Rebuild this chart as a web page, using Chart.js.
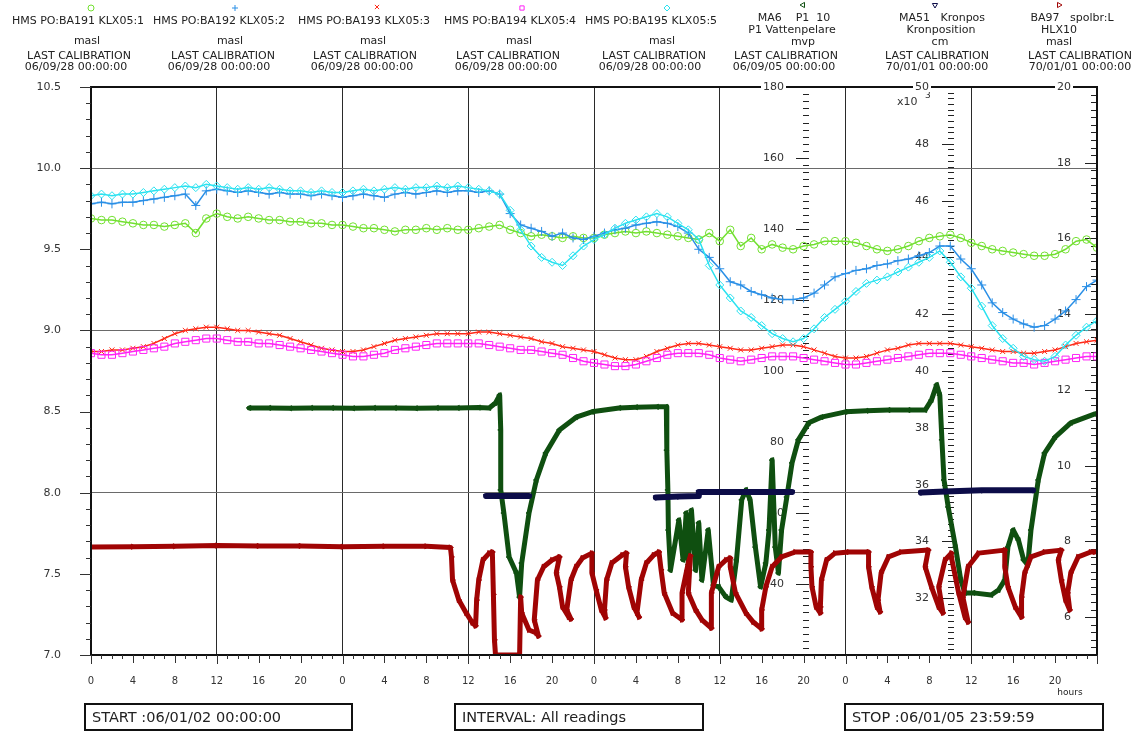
<!DOCTYPE html>
<html>
<head>
<meta charset="utf-8">
<script src="https://cdn.jsdelivr.net/npm/chart.js@4.4.1/dist/chart.umd.min.js"></script>
<style>
  html, body { margin: 0; padding: 0; background: #fff; }
  #wrap { width: 1141px; height: 731px; position: relative; }
</style>
</head>
<body>
<div id="wrap"><canvas id="chart"></canvas></div>
<script>
// ---- data: readings over 4 days (x = hours from START) ----
const hours = Array.from({length: 97}, (_, i) => i);

// HMS PO:BA191 KLX05:1 (masl)
const ba191 = [
  9.69, 9.68, 9.68, 9.67, 9.66, 9.65, 9.65, 9.64, 9.65, 9.66, 9.60, 9.69,
  9.72, 9.70, 9.69, 9.70, 9.69, 9.68, 9.68, 9.67, 9.67, 9.66, 9.66, 9.65,
  9.65, 9.64, 9.63, 9.63, 9.62, 9.61, 9.62, 9.62, 9.63, 9.62, 9.63, 9.62,
  9.62, 9.63, 9.64, 9.65, 9.62, 9.60, 9.58, 9.59, 9.58, 9.57, 9.58, 9.57,
  9.57, 9.59, 9.60, 9.61, 9.60, 9.61, 9.60, 9.59, 9.58, 9.57, 9.56, 9.60,
  9.55, 9.62, 9.52, 9.57, 9.50, 9.53, 9.51, 9.50, 9.52, 9.53, 9.55, 9.55,
  9.55, 9.54, 9.52, 9.50, 9.49, 9.50, 9.52, 9.55, 9.57, 9.58, 9.59, 9.57,
  9.54, 9.52, 9.50, 9.49, 9.48, 9.47, 9.46, 9.46, 9.47, 9.50, 9.55, 9.56, 9.51
];
// HMS PO:BA192 KLX05:2 (masl)
const ba192 = [
  9.78, 9.79, 9.78, 9.79, 9.79, 9.80, 9.81, 9.82, 9.83, 9.84, 9.77, 9.86,
  9.87, 9.86, 9.85, 9.86, 9.85, 9.84, 9.85, 9.84, 9.84, 9.83, 9.84, 9.83,
  9.82, 9.83, 9.84, 9.83, 9.82, 9.84, 9.85, 9.84, 9.85, 9.86, 9.85, 9.86,
  9.86, 9.85, 9.86, 9.84, 9.72, 9.65, 9.63, 9.61, 9.58, 9.60, 9.57, 9.56,
  9.58, 9.60, 9.62, 9.63, 9.65, 9.66, 9.67, 9.66, 9.64, 9.60, 9.50, 9.45,
  9.38, 9.30, 9.28, 9.24, 9.22, 9.20, 9.19, 9.19, 9.20, 9.23, 9.28, 9.33,
  9.35, 9.37, 9.38, 9.40, 9.41, 9.43, 9.44, 9.46, 9.48, 9.52, 9.52, 9.44,
  9.38, 9.28, 9.17, 9.11, 9.07, 9.04, 9.02, 9.03, 9.07, 9.12, 9.19, 9.27, 9.31
];
// HMS PO:BA193 KLX05:3 (masl)
const ba193 = [
  8.87, 8.87, 8.88, 8.88, 8.89, 8.90, 8.92, 8.95, 8.98, 9.00, 9.01, 9.02,
  9.02, 9.01, 9.00, 9.00, 8.99, 8.98, 8.97, 8.95, 8.93, 8.91, 8.89, 8.88,
  8.87, 8.87, 8.88, 8.90, 8.92, 8.94, 8.95, 8.96, 8.97, 8.98, 8.98, 8.98,
  8.98, 8.99, 8.99, 8.98, 8.97, 8.96, 8.95, 8.93, 8.92, 8.90, 8.89, 8.88,
  8.87, 8.85, 8.83, 8.82, 8.82, 8.84, 8.87, 8.89, 8.91, 8.92, 8.92, 8.91,
  8.90, 8.89, 8.88, 8.88, 8.89, 8.90, 8.91, 8.91, 8.90, 8.88, 8.86, 8.84,
  8.83, 8.83, 8.84, 8.86, 8.88, 8.89, 8.91, 8.92, 8.92, 8.92, 8.92, 8.91,
  8.90, 8.89, 8.88, 8.87, 8.87, 8.86, 8.86, 8.87, 8.88, 8.90, 8.92, 8.93, 8.94
];
// HMS PO:BA194 KLX05:4 (masl)
const ba194 = [
  8.86, 8.85, 8.85, 8.86, 8.87, 8.88, 8.89, 8.90, 8.92, 8.93, 8.94, 8.95,
  8.95, 8.94, 8.93, 8.93, 8.92, 8.92, 8.91, 8.90, 8.89, 8.88, 8.87, 8.86,
  8.85, 8.84, 8.84, 8.85, 8.86, 8.88, 8.89, 8.90, 8.91, 8.92, 8.92, 8.92,
  8.92, 8.92, 8.91, 8.90, 8.89, 8.88, 8.88, 8.87, 8.86, 8.85, 8.83, 8.81,
  8.80, 8.79, 8.78, 8.78, 8.79, 8.81, 8.83, 8.85, 8.86, 8.86, 8.86, 8.85,
  8.83, 8.82, 8.81, 8.82, 8.83, 8.84, 8.84, 8.84, 8.83, 8.82, 8.81, 8.80,
  8.79, 8.79, 8.80, 8.81, 8.82, 8.83, 8.84, 8.85, 8.86, 8.86, 8.86, 8.85,
  8.84, 8.83, 8.82, 8.81, 8.80, 8.80, 8.79, 8.80, 8.81, 8.82, 8.83, 8.84, 8.84
];
// HMS PO:BA195 KLX05:5 (masl)
const ba195 = [
  9.83, 9.84, 9.83, 9.84, 9.84, 9.85, 9.86, 9.87, 9.88, 9.89, 9.88, 9.90,
  9.89, 9.88, 9.87, 9.88, 9.87, 9.88, 9.87, 9.86, 9.86, 9.85, 9.86, 9.85,
  9.85, 9.86, 9.87, 9.86, 9.87, 9.88, 9.87, 9.88, 9.88, 9.89, 9.88, 9.89,
  9.88, 9.87, 9.86, 9.84, 9.74, 9.62, 9.52, 9.45, 9.42, 9.40, 9.46, 9.52,
  9.56, 9.59, 9.63, 9.66, 9.68, 9.70, 9.72, 9.70, 9.66, 9.62, 9.56, 9.40,
  9.28, 9.20, 9.12, 9.08, 9.03, 8.98, 8.95, 8.93, 8.95, 9.01, 9.08, 9.13,
  9.18, 9.24, 9.29, 9.31, 9.33, 9.36, 9.39, 9.42, 9.45, 9.49, 9.42, 9.33,
  9.26, 9.15, 9.03, 8.95, 8.89, 8.84, 8.82, 8.81, 8.84, 8.91, 8.97, 9.02, 9.06
];

// MA6 P1 10 - P1 Vattenpelare (mvp): [hour, value]
const ma6 = [
  [15.1, 89.6], [17, 89.6], [19, 89.5], [21, 89.6], [23, 89.6], [25, 89.5], [27, 89.6],
  [29, 89.6], [31, 89.5], [33, 89.6], [35, 89.6], [37, 89.7], [38.0, 89.6], [38.6, 91.0],
  [39.0, 93.2], [39.1, 83.4], [39.1, 66.5], [39.4, 60.0], [39.9, 47.6], [40.6, 43.1],
  [40.9, 36.3], [41.1, 45.9], [41.8, 60.0], [42.5, 69.3], [43.4, 76.9], [44.7, 83.4],
  [46.3, 87.0], [47.8, 88.5], [50.4, 89.6], [52, 89.8], [54, 89.9], [54.9, 89.9],
  [54.95, 77.7], [55.05, 66.5], [55.1, 55.2], [55.3, 43.9], [56.1, 58.0], [56.5, 46.8],
  [56.8, 60.0], [57.0, 45.4], [57.3, 60.8], [57.7, 43.9], [58.0, 57.2], [58.3, 41.1],
  [58.9, 55.2], [59.4, 39.7], [59.9, 39.2], [60.6, 36.3], [61.1, 35.5], [61.6, 46.8],
  [62.1, 63.7], [62.5, 66.5], [62.9, 63.7], [63.4, 50.4], [63.9, 39.2], [64.4, 45.9],
  [64.7, 55.2], [65.0, 74.9], [65.3, 50.4], [65.6, 43.1], [65.9, 55.2], [66.4, 64.5],
  [66.9, 74.1], [67.5, 80.6], [68.5, 85.4], [69.7, 87.0], [72.0, 88.5], [74, 88.8],
  [76.1, 89.0], [78, 89.0], [79.6, 89.0], [80.2, 91.8], [80.7, 96.1], [81.0, 93.2],
  [81.2, 80.6], [81.4, 69.3], [81.8, 61.7], [82.5, 50.4], [83.0, 41.1], [83.4, 37.5],
  [84.2, 37.5], [85.9, 36.9], [86.6, 38.3], [87.2, 41.1], [87.5, 50.4], [88.0, 55.2],
  [88.5, 52.4], [89.0, 46.8], [89.4, 45.4], [89.7, 55.2], [90.4, 69.3], [91.0, 76.9],
  [92.0, 81.4], [93.5, 85.4], [95.8, 87.9]
];

// MA51 Kronpos - Kronposition (cm), null splits the runs
const ma51 = [
  [37.7, 35600], [39.5, 35600], [41.8, 35600], [41.8, null],
  [53.9, 35550], [56, 35580], [58.0, 35600], [58.0, 35740], [62, 35740], [66.9, 35740], [66.9, null],
  [79.2, 35720], [81.5, 35760], [85, 35800], [89.9, 35800]
];

// BA97 spolbr:L - HLX10 (masl)
const ba97 = [
  [0, 7.85], [4, 7.86], [8, 7.87], [12, 7.89], [16, 7.88], [20, 7.88], [24, 7.86], [28, 7.87],
  [32, 7.87], [34.3, 7.84],
  [34.4, 7.59], [34.5, 6.98], [35.1, 6.45], [35.8, 6.11], [36.4, 5.85], [36.7, 5.77],
  [36.8, 6.45], [37.0, 6.98], [37.4, 7.51], [38.0, 7.69], [38.3, 7.72],
  [38.4, 6.6], [38.5, 5.40], [38.6, 5.0], [40.9, 5.0],
  [41.0, 6.53], [41.1, 6.11], [41.8, 5.66], [42.5, 5.58], [42.7, 5.50],
  [42.3, 5.93], [42.6, 6.98], [43.2, 7.33], [44.0, 7.51], [44.7, 7.59],
  [44.4, 7.17], [44.7, 6.80], [45.0, 6.27], [45.6, 6.00], [45.8, 5.95],
  [45.4, 6.19], [45.8, 6.98], [46.3, 7.33], [46.9, 7.56], [47.8, 7.69],
  [47.8, 7.17], [48.2, 6.72], [48.7, 6.19], [49.1, 5.98],
  [49.0, 6.19], [49.2, 6.98], [49.7, 7.43], [50.7, 7.64], [51.1, 7.69],
  [51.0, 7.33], [51.3, 6.80], [51.8, 6.27], [52.3, 6.00],
  [52.1, 6.11], [52.5, 6.98], [53.0, 7.43], [53.7, 7.64], [54.2, 7.72],
  [54.4, 7.25], [54.7, 6.64], [55.5, 6.11], [56.4, 5.93],
  [56.4, 6.64], [56.8, 7.17], [57.0, 7.43], [57.2, 7.62],
  [57.0, 6.64], [57.7, 6.19], [58.3, 5.93], [59.2, 5.71],
  [59.2, 6.64], [59.9, 7.33], [60.6, 7.51], [61.0, 7.56],
  [61.0, 7.33], [61.5, 6.64], [62.5, 6.11], [63.2, 5.87], [64.0, 5.69],
  [64.0, 6.19], [64.4, 6.80], [65.0, 7.33], [65.9, 7.59], [67.2, 7.72], [68.7, 7.72],
  [68.7, 7.33], [68.8, 6.80], [69.2, 6.27], [69.6, 6.11],
  [69.6, 6.27], [69.7, 6.98], [70.2, 7.51], [71.0, 7.69], [72.3, 7.72], [74.2, 7.72],
  [74.2, 7.33], [74.5, 6.80], [75.0, 6.27], [75.3, 6.14],
  [75.1, 6.45], [75.4, 7.17], [76.1, 7.59], [77.3, 7.72], [79.9, 7.77],
  [79.6, 7.33], [80.2, 6.80], [80.9, 6.27], [81.3, 6.11],
  [80.9, 6.80], [81.5, 7.51], [82.1, 7.69],
  [82.1, 7.59], [82.8, 6.64], [83.4, 6.00], [83.7, 5.87],
  [83.2, 6.53], [83.7, 7.33], [84.7, 7.69], [87.2, 7.77],
  [87.2, 7.33], [87.5, 6.80], [88.2, 6.27], [88.8, 6.00],
  [88.8, 6.53], [89.1, 7.17], [89.7, 7.59], [91.0, 7.72], [92.6, 7.77],
  [92.3, 7.51], [92.6, 6.98], [93.0, 6.45], [93.4, 6.19],
  [93.2, 6.64], [93.5, 7.17], [94.2, 7.59], [95.4, 7.72], [95.8, 7.72]
];

// header texts
const headers = [
  { sym: [91, 8],   l: [['HMS PO:BA191 KLX05:1', 78, 21], ['masl', 87, 41]],  lc: 79,  date: ['06/09/28 00:00:00', 76] },
  { sym: [235, 8],  l: [['HMS PO:BA192 KLX05:2', 219, 21], ['masl', 230, 41]], lc: 223, date: ['06/09/28 00:00:00', 219] },
  { sym: [377, 7],  l: [['HMS PO:BA193 KLX05:3', 364, 21], ['masl', 373, 41]], lc: 365, date: ['06/09/28 00:00:00', 362] },
  { sym: [522, 8],  l: [['HMS PO:BA194 KLX05:4', 510, 21], ['masl', 519, 41]], lc: 508, date: ['06/09/28 00:00:00', 506] },
  { sym: [667, 8],  l: [['HMS PO:BA195 KLX05:5', 651, 21], ['masl', 662, 41]], lc: 654, date: ['06/09/28 00:00:00', 650] },
  { sym: [803, 5],  l: [['MA6    P1  10', 794, 18], ['P1 Vattenpelare', 792, 30], ['mvp', 803, 42]], lc: 786, date: ['06/09/05 00:00:00', 784] },
  { sym: [935, 5],  l: [['MA51   Kronpos', 942, 18], ['Kronposition', 941, 30], ['cm', 940, 42]], lc: 937, date: ['70/01/01 00:00:00', 937] },
  { sym: [1059, 5], l: [['BA97   spolbr:L', 1072, 18], ['HLX10', 1059, 30], ['masl', 1059, 42]], lc: 1080, date: ['70/01/01 00:00:00', 1080] }
];

const COL = {
  g: '#72e030', b: '#2a8fe6', r: '#ff2a18', m: '#ff22f6', c: '#2ae2f0',
  dg: '#0f4f10', nv: '#0c0c48', dr: '#a00404'
};
const FONT = "'DejaVu Sans', Verdana, sans-serif";
Chart.defaults.font.family = FONT;
Chart.defaults.font.size = 11;
Chart.defaults.color = '#333';

const byHour = vals => vals.map((v, i) => ({x: hours[i], y: v}));
const byPair = pairs => pairs.map(p => ({x: p[0], y: p[1]}));
const isMult = (v, s) => Math.abs(v / s - Math.round(v / s)) < 1e-6;

const symOpts = [
  {style: 'circle', r: 3.8, rot: 0, color: COL.g},
  {style: 'cross', r: 4.5, rot: 0, color: COL.b},
  {style: 'crossRot', r: 3.5, rot: 0, color: COL.r},
  {style: 'rect', r: 5, rot: 0, color: COL.m},
  {style: 'rectRot', r: 4, rot: 0, color: COL.c},
  {style: 'triangle', r: 3, rot: -90, color: COL.dg},
  {style: 'triangle', r: 3, rot: 180, color: COL.nv},
  {style: 'triangle', r: 3, rot: 90, color: COL.dr}
];

// light series: markers with a faint trace joining them, like the dense point cloud
function pointSet(label, data, axis, s) {
  return {
    label, data, yAxisID: axis, showLine: true,
    borderColor: s.color, borderWidth: 1.5,
    pointStyle: s.style, pointRadius: s.r, pointRotation: s.rot,
    pointBorderColor: s.color, pointBackgroundColor: 'rgba(0,0,0,0)', pointBorderWidth: 1
  };
}
function bandSet(label, data, axis, s, width) {
  return Object.assign(pointSet(label, data, axis, s), {
    borderWidth: width, borderJoinStyle: 'round', borderCapStyle: 'round', spanGaps: false
  });
}

// inner scales: tick column position (px), step, major step, label right edge
const innerAxes = [
  {id: 'y1', x: 809, step: 2, major: 20, minLen: 6, majLen: 13, labelX: 784, skip: [20], top: '180', div: 1},
  {id: 'y2', x: 954, step: 200, major: 2000, minLen: 6, majLen: 12, labelX: 929, skip: [30000], top: '50', div: 1000},
  {id: 'y3', x: 1097, step: 0.2, major: 2, minLen: 6, majLen: 12, labelX: 1071, skip: [], top: '20', div: 1}
];

const frame = {
  id: 'frame',
  beforeDatasetsDraw(chart) {
    const {ctx} = chart;
    ctx.save();
    ctx.strokeStyle = '#222';
    ctx.lineWidth = 1;
    ctx.fillStyle = '#333';
    ctx.font = '11px ' + FONT;
    ctx.textAlign = 'right';
    ctx.textBaseline = 'middle';
    innerAxes.forEach(ax => {
      const sc = chart.scales[ax.id];
      const n = Math.round((sc.max - sc.min) / ax.step);
      for (let k = 1; k < n; k++) {
        const v = sc.min + k * ax.step;
        const y = Math.round(sc.getPixelForValue(v)) + 0.5;
        const major = isMult(v, ax.major);
        const len = major ? ax.majLen : ax.minLen;
        ctx.beginPath();
        ctx.moveTo(ax.x - len, y);
        ctx.lineTo(ax.x, y);
        ctx.stroke();
        if (major && !ax.skip.some(s => Math.abs(s - v) < 1e-6)) {
          ctx.fillText(String(Math.round(v / ax.div)), ax.labelX, y);
        }
      }
    });
    // x10^3 for the Kronpos scale
    ctx.textAlign = 'left';
    ctx.fillText('x10', 897, 102);
    ctx.font = '9px ' + FONT;
    ctx.fillText('3', 925, 96);
    ctx.restore();
  },
  afterDatasetsDraw(chart) {
    const {ctx, chartArea: a, scales} = chart;
    ctx.save();
    // plot frame
    ctx.strokeStyle = '#111';
    ctx.lineWidth = 2;
    ctx.strokeRect(a.left, a.top, a.right - a.left, a.bottom - a.top);
    ctx.lineWidth = 1;
    ctx.strokeStyle = '#333';
    // left scale ticks
    const ys = scales.y;
    for (let k = 0; k <= 35; k++) {
      const v = 7 + k * 0.1;
      const y = Math.round(ys.getPixelForValue(v)) + 0.5;
      const len = k % 5 === 0 ? 11 : 5;
      ctx.beginPath();
      ctx.moveTo(a.left - len, y);
      ctx.lineTo(a.left, y);
      ctx.stroke();
    }
    // hour ticks
    const xs = scales.x;
    for (let h = 0; h <= 96; h++) {
      const x = Math.round(xs.getPixelForValue(h)) + 0.5;
      const len = h % 12 === 0 ? 9 : (h % 4 === 0 ? 8 : 4);
      ctx.beginPath();
      ctx.moveTo(x, a.bottom);
      ctx.lineTo(x, a.bottom + len);
      ctx.stroke();
    }
    // top values of inner scales sit on the frame
    ctx.font = '11px ' + FONT;
    ctx.textAlign = 'right';
    ctx.textBaseline = 'middle';
    innerAxes.forEach(ax => {
      const w = ctx.measureText(ax.top).width;
      ctx.fillStyle = '#fff';
      ctx.fillRect(ax.labelX - w - 2, a.top - 5, w + 4, 10);
      ctx.fillStyle = '#333';
      ctx.fillText(ax.top, ax.labelX, a.top);
    });
    ctx.restore();
  },
  afterDraw(chart) {
    const {ctx} = chart;
    ctx.save();
    ctx.textAlign = 'center';
    ctx.textBaseline = 'middle';
    headers.forEach((h, i) => {
      const s = symOpts[i];
      ctx.strokeStyle = s.color;
      ctx.fillStyle = 'rgba(0,0,0,0)';
      ctx.lineWidth = 1;
      Chart.helpers.drawPoint(ctx, {pointStyle: s.style, radius: 3, rotation: s.rot, borderWidth: 1}, h.sym[0], h.sym[1]);
      ctx.fillStyle = '#222';
      ctx.font = '11px ' + FONT;
      h.l.forEach(t => ctx.fillText(t[0], t[1], t[2]));
      ctx.fillText('LAST CALIBRATION', h.lc, 56);
      ctx.fillText(h.date[0], h.date[1], 67);
    });
    ctx.font = '9px ' + FONT;
    ctx.fillText('hours', 1070, 693);
    // info boxes under the axis
    const boxes = [
      ['START :06/01/02 00:00:00', 85, 267],
      ['INTERVAL: All readings', 455, 248],
      ['STOP :06/01/05 23:59:59', 845, 258]
    ];
    ctx.strokeStyle = '#111';
    ctx.lineWidth = 2;
    ctx.textAlign = 'left';
    ctx.font = '14.5px ' + FONT;
    boxes.forEach(b => {
      ctx.strokeRect(b[1], 704, b[2], 26);
      ctx.fillText(b[0], b[1] + 7, 718);
    });
    ctx.restore();
  }
};

new Chart(document.getElementById('chart'), {
  type: 'scatter',
  data: {
    datasets: [
      bandSet('BA97 spolbr:L', byPair(ba97), 'y3', symOpts[7], 5),
      bandSet('MA51 Kronpos', byPair(ma51), 'y2', symOpts[6], 6),
      bandSet('MA6 P1 10', byPair(ma6), 'y1', symOpts[5], 5),
      pointSet('HMS PO:BA195 KLX05:5', byHour(ba195), 'y', symOpts[4]),
      pointSet('HMS PO:BA194 KLX05:4', byHour(ba194), 'y', symOpts[3]),
      pointSet('HMS PO:BA193 KLX05:3', byHour(ba193), 'y', symOpts[2]),
      pointSet('HMS PO:BA192 KLX05:2', byHour(ba192), 'y', symOpts[1]),
      pointSet('HMS PO:BA191 KLX05:1', byHour(ba191), 'y', symOpts[0])
    ]
  },
  options: {
    responsive: true,
    maintainAspectRatio: false,
    animation: false,
    layout: { padding: { top: 87, right: 44, left: 0, bottom: 0 } },
    plugins: { legend: { display: false }, tooltip: { enabled: false } },
    scales: {
      x: {
        type: 'linear', min: 0, max: 96,
        afterFit: s => { s.height = 76; },
        border: { display: false },
        grid: {
          drawTicks: false, lineWidth: 1,
          color: c => (c.tick && c.tick.value % 12 === 0 && c.tick.value > 0 && c.tick.value < 96) ? '#2a2a2a' : 'rgba(0,0,0,0)'
        },
        ticks: { stepSize: 4, autoSkip: false, maxRotation: 0, padding: 20, font: {size: 10}, callback: v => v < 96 ? v % 24 : '' }
      },
      y: {
        position: 'left', min: 7, max: 10.5,
        afterFit: s => { s.width = 91; },
        border: { display: false },
        grid: {
          drawTicks: false, lineWidth: 1,
          color: c => (c.tick && isMult(c.tick.value, 1) && c.tick.value > 7) ? '#6a6a6a' : 'rgba(0,0,0,0)'
        },
        ticks: { stepSize: 0.1, autoSkip: false, padding: 30, callback: v => isMult(v, 0.5) ? v.toFixed(1) : '' }
      },
      y1: { position: 'right', display: false, min: 20, max: 180 },
      y2: { position: 'right', display: false, min: 30000, max: 50000 },
      y3: { position: 'right', display: false, min: 5, max: 20 }
    }
  },
  plugins: [frame]
});
</script>
</body>
</html>
